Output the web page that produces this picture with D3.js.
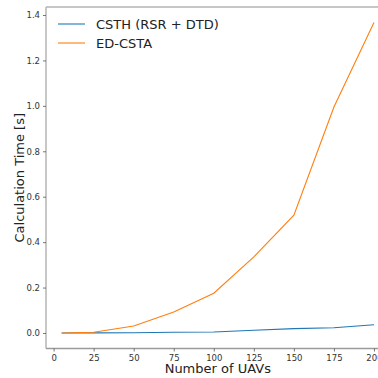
<!DOCTYPE html>
<html><head><meta charset="utf-8">
<script src="https://cdn.jsdelivr.net/npm/d3@7"></script>
<style>body{margin:0;background:#fff;}svg{display:block;font-family:"DejaVu Sans",sans-serif;}</style>
</head><body>
<svg id="c" width="378" height="378"></svg>
<script>
const uavs = [5, 25, 50, 75, 100, 125, 150, 175, 200];
const csth = [0.0, 0.0005, 0.001, 0.003, 0.004, 0.012, 0.019, 0.023, 0.036];
const edcsta = [0.0, 0.003, 0.031, 0.092, 0.175, 0.335, 0.519, 0.995, 1.367];
const seriesNames = ["CSTH (RSR + DTD)", "ED-CSTA"];
const seriesColors = ["#1f77b4", "#ff7f0e"];
const xTicks = [0, 25, 50, 75, 100, 125, 150, 175, 200];
const yTicks = [0.0, 0.2, 0.4, 0.6, 0.8, 1.0, 1.2, 1.4];

(function () {
const svg = d3.select("#c");
const pL = 46, pR = 389.6, pT = 7, pB = 348.5;
const x = d3.scaleLinear().domain([-4.75, 209.75]).range([pL, pR]);
const y = d3.scaleLinear().domain([-0.06835, 1.43535]).range([pB, pT]);

const spine = "#b4b4b4";
svg.append("line").attr("x1", pL).attr("x2", 378).attr("y1", pT).attr("y2", pT).attr("stroke", spine).attr("stroke-width", 1.5);
svg.append("line").attr("x1", pL).attr("x2", pL).attr("y1", pT).attr("y2", pB).attr("stroke", spine).attr("stroke-width", 1.5);
svg.append("line").attr("x1", pL).attr("x2", 378).attr("y1", pB).attr("y2", pB).attr("stroke", "#9a9a9a").attr("stroke-width", 1.5);

const xAxis = svg.append("g").attr("transform", `translate(0,${pB})`)
  .call(d3.axisBottom(x).tickValues(xTicks).tickFormat(d3.format("d")).tickSize(3).tickPadding(3));
const yAxis = svg.append("g").attr("transform", `translate(${pL},0)`)
  .call(d3.axisLeft(y).tickValues(yTicks).tickFormat(d3.format(".1f")).tickSize(3).tickPadding(3));
[xAxis, yAxis].forEach(a => {
  a.select(".domain").remove();
  a.selectAll(".tick line").attr("stroke", "#555").attr("stroke-width", 0.8);
  a.selectAll(".tick text").attr("fill", "#333").attr("font-size", 8.5).attr("font-family", "DejaVu Sans");
});

const line = d3.line().x((d, i) => x(uavs[i])).y(d => y(d));
[csth, edcsta].forEach((s, k) => {
  svg.append("path").datum(s).attr("d", line).attr("fill", "none")
    .attr("stroke", seriesColors[k]).attr("stroke-width", 1.1);
});

seriesNames.forEach((n, k) => {
  const ly = 24 + k * 19;
  svg.append("line").attr("x1", 58).attr("x2", 85).attr("y1", ly).attr("y2", ly)
    .attr("stroke", seriesColors[k]).attr("stroke-width", 1.1);
  svg.append("text").attr("x", 96).attr("y", ly + 5).attr("font-size", 13).attr("fill", "#222").text(n);
});

svg.append("text").attr("x", (pL + pR) / 2).attr("y", 373).attr("text-anchor", "middle")
  .attr("font-size", 13).attr("fill", "#222").text("Number of UAVs");
svg.append("text").attr("transform", `translate(24,${(pT + pB) / 2}) rotate(-90)`).attr("text-anchor", "middle")
  .attr("font-size", 13).attr("fill", "#222").text("Calculation Time [s]");
})();
</script>
</body></html>
